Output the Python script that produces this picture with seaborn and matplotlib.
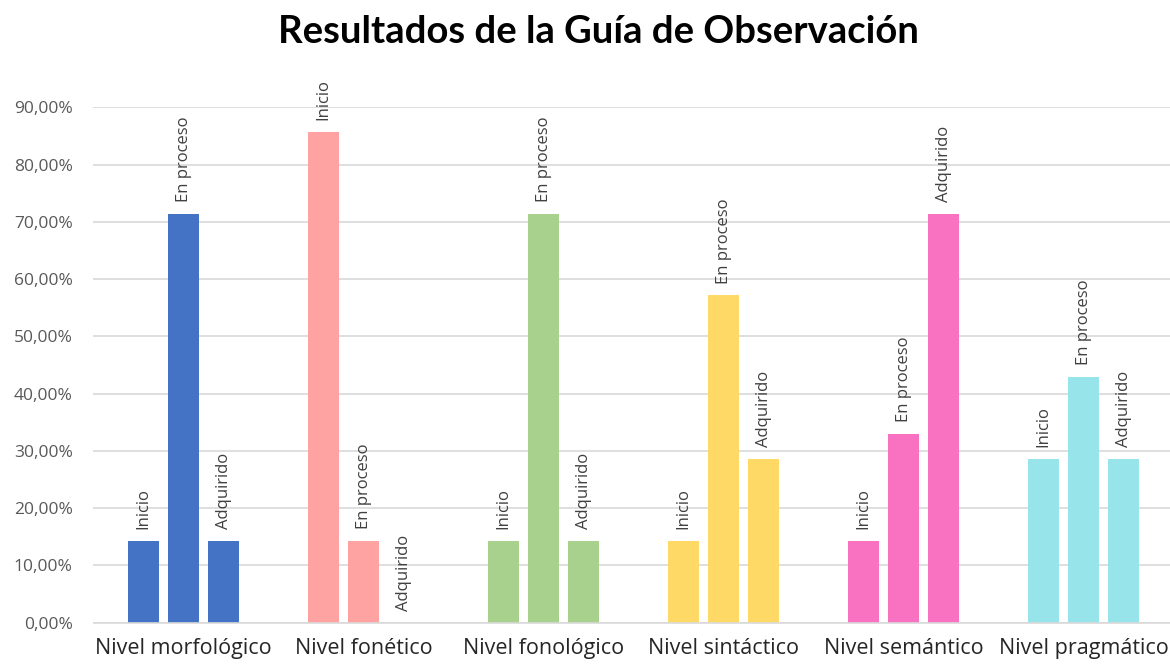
import matplotlib
matplotlib.use("Agg")
import matplotlib.pyplot as plt
import seaborn as sns
import pandas as pd
from matplotlib.ticker import FuncFormatter

niveles = ["Nivel morfológico", "Nivel fonético", "Nivel fonológico",
           "Nivel sintáctico", "Nivel semántico", "Nivel pragmático"]
estados = ["Inicio", "En proceso", "Adquirido"]
inicio = [0.1429, 0.8571, 0.1429, 0.1429, 0.1429, 0.2857]
en_proceso = [0.7143, 0.1429, 0.7143, 0.5714, 0.3290, 0.4286]
adquirido = [0.1429, 0.0, 0.1429, 0.2857, 0.7143, 0.2857]
colores = ["#4472C4", "#FFA2A2", "#A9D18E", "#FFD966", "#F972C2", "#98E4EB"]
y_ticks = [0.0, 0.1, 0.2, 0.3, 0.4, 0.5, 0.6, 0.7, 0.8, 0.9]

rows = []
for i, n in enumerate(niveles):
    for e, vals in zip(estados, [inicio, en_proceso, adquirido]):
        rows.append({"nivel": n, "estado": e, "valor": vals[i]})
df = pd.DataFrame(rows)

sns.set_theme(style="white")
plt.rcParams['font.family'] = ['Open Sans', 'DejaVu Sans']

fig = plt.figure(figsize=(11.7, 6.64), dpi=100)
ax = fig.add_axes([93.5 / 1170, 41.3 / 664, 1080 / 1170, 515.4 / 664])

sns.barplot(data=df, x="nivel", y="valor", hue="estado", order=niveles,
            hue_order=estados, width=0.6667, gap=0.225, ax=ax,
            legend=False, errorbar=None, palette=["#777777"] * 3)

for hi, cont in enumerate(ax.containers):
    for ci, bar in enumerate(cont):
        bar.set_facecolor(colores[ci])
        bar.set_edgecolor("none")
        h = bar.get_height()
        ax.annotate(estados[hi], (bar.get_x() + bar.get_width() / 2, h),
                    xytext=(0, 8.5), textcoords="offset points",
                    rotation=90, ha="center", va="bottom",
                    fontsize=12, color="#404040", annotation_clip=False)

ax.set_xlim(-0.5, 5.5)
ax.set_ylim(0, 0.9)
ax.set_yticks(y_ticks)
ax.yaxis.set_major_formatter(FuncFormatter(lambda v, p: f"{v*100:.2f}%".replace(".", ",")))
ax.grid(axis="y", color="#D9D9D9", linewidth=1.2)
ax.set_axisbelow(True)
for s in ["top", "right", "left"]:
    ax.spines[s].set_visible(False)
ax.spines["bottom"].set_color("#D9D9D9")
ax.spines["bottom"].set_linewidth(1.2)
ax.tick_params(axis="y", length=0, labelsize=12.5, labelcolor="#595959", pad=15)
ax.tick_params(axis="x", length=0, labelsize=15.5, labelcolor="#262626", pad=11)
ax.set_xlabel("")
ax.set_ylabel("")

fig.text(598 / 1170, 1 - 32 / 664, "Resultados de la Guía de Observación",
         ha="center", va="center", fontsize=27.5, fontweight="bold",
         color="black", family=["Lato", "DejaVu Sans"])

fig.savefig("out.png", dpi=100)
